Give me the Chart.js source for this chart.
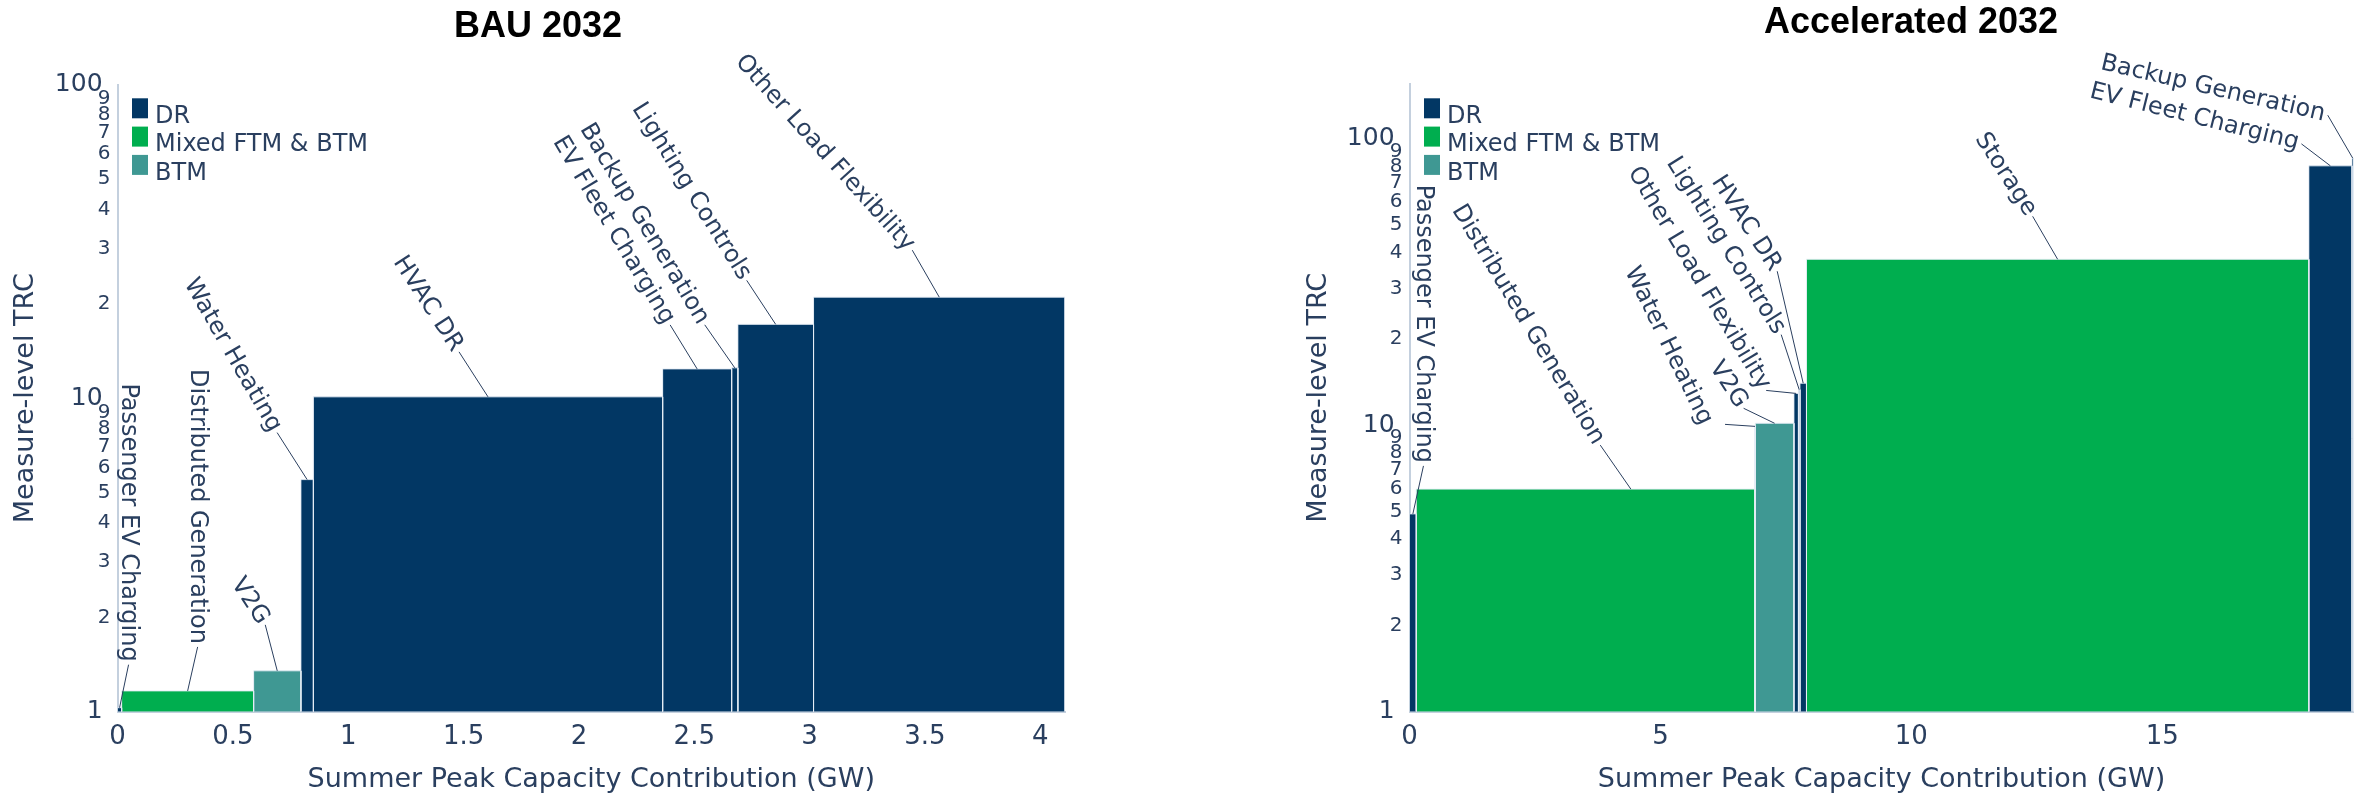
<!DOCTYPE html>
<html>
<head>
<meta charset="utf-8">
<script src="https://cdn.jsdelivr.net/npm/chart.js@4.4.1/dist/chart.umd.min.js"></script>
<style>
  html, body { margin: 0; padding: 0; background: #ffffff; }
  #wrap { position: relative; width: 2362px; height: 796px; overflow: hidden; }
  .pane { position: absolute; top: 0; height: 796px; }
</style>
</head>
<body>
<div id="wrap">
  <div class="pane" style="left:0;width:1190px"><canvas id="bau" width="1190" height="796"></canvas></div>
  <div class="pane" style="left:1190px;width:1172px"><canvas id="acc" width="1172" height="796"></canvas></div>
</div>
<script>
// ---- measure groups ----
const groupNames = ['DR', 'Mixed FTM & BTM', 'BTM'];
const groupColors = ['#023764', '#00ae4f', '#3f9893'];

// ---- BAU 2032 supply curve (ordered by TRC) ----
const bauMeasures = ['Passenger EV Charging', 'Distributed Generation', 'V2G', 'Water Heating', 'HVAC DR',
                     'EV Fleet Charging', 'Backup Generation', 'Lighting Controls', 'Other Load Flexibility'];
const bauCapacityGW = [0.018, 0.572, 0.205, 0.054, 1.514, 0.299, 0.027, 0.328, 1.090];
const bauTRC = [1.03, 1.165, 1.35, 5.5, 10.1, 12.4, 12.5, 17.2, 21.0];
const bauGroup = [0, 1, 2, 0, 0, 0, 0, 0, 0];

// ---- Accelerated 2032 supply curve ----
const accMeasures = ['Passenger EV Charging', 'Distributed Generation', 'Water Heating', 'V2G', 'Other Load Flexibility',
                     'Lighting Controls', 'HVAC DR', 'Storage', 'EV Fleet Charging', 'Backup Generation'];
const accCapacityGW = [0.134, 6.746, 0.010, 0.770, 0.090, 0.030, 0.130, 10.010, 0.860, 0.030];
const accTRC = [4.9, 5.98, 9.9, 10.15, 12.9, 13.3, 14.0, 37.9, 80.3, 85.4];
const accGroup = [0, 1, 0, 2, 0, 0, 0, 1, 0, 0];

// ---- axis ticks ----
const trcTickValues = [1, 2, 3, 4, 5, 6, 7, 8, 9, 10, 20, 30, 40, 50, 60, 70, 80, 90, 100];
const trcMajorTicks = [1, 10, 100];
const bauXTicks = [0, 0.5, 1, 1.5, 2, 2.5, 3, 3.5, 4];
const accXTicks = [0, 5, 10, 15];

// ---- styling ----
const INK = '#2a3f5f';
const AXIS = '#c4d0de';
const EDGE = 'rgba(228,236,245,0.9)';
const FONT = '"DejaVu Sans", Verdana, sans-serif';
const TITLE_FONT = 'bold 36px "Liberation Sans", Arial, sans-serif';

function edgesOf(widths) {
  const e = [0];
  widths.forEach(w => e.push(e[e.length - 1] + w));
  return e;
}

// each measure is a rectangle: width = capacity, height = TRC
function barDatasets(measures, widths, trc, groups) {
  const e = edgesOf(widths);
  return measures.map((m, i) => ({
    label: m,
    data: [{x: e[i], y: 1}, {x: e[i], y: trc[i]}, {x: e[i + 1], y: trc[i]}, {x: e[i + 1], y: 1}],
    backgroundColor: groupColors[groups[i]],
    borderColor: EDGE,
    borderWidth: 1,
    fill: 'start',
    pointRadius: 0,
    tension: 0
  }));
}

// titles, legend and leader-line labels for one panel
function makeDecor(spec) {
  return {
    id: 'decor',
    afterDraw(chart) {
      const ctx = chart.ctx;
      const xs = chart.scales.x, ys = chart.scales.y;
      ctx.save();
      ctx.fillStyle = '#000';
      ctx.font = TITLE_FONT;
      ctx.textAlign = 'center';
      ctx.textBaseline = 'middle';
      ctx.fillText(spec.title, spec.titleX, spec.titleY);

      // legend
      ctx.font = '24px ' + FONT;
      ctx.textAlign = 'left';
      groupNames.forEach((g, i) => {
        const y = 98.3 + i * 28.3;
        ctx.fillStyle = groupColors[i];
        ctx.fillRect(spec.legendX, y, 16, 20);
        ctx.fillStyle = INK;
        ctx.fillText(g, spec.legendX + 23, y + 18.5);
      });

      // callouts: leader from the bar top to the end of a rotated label
      const e = edgesOf(spec.widths);
      ctx.strokeStyle = INK;
      ctx.lineWidth = 1;
      spec.callouts.forEach((c, i) => {
        const f = c.at === undefined ? 0.5 : c.at;
        const tx = xs.getPixelForValue(e[i] + (e[i + 1] - e[i]) * f);
        const ty = ys.getPixelForValue(spec.values[i]);
        const sx = tx + c.dx, sy = ty + c.dy;
        ctx.beginPath();
        ctx.moveTo(tx, ty);
        ctx.lineTo(sx, sy);
        ctx.stroke();
        ctx.save();
        ctx.translate(sx + (c.tdx || 0), sy + (c.tdy || 0));
        ctx.rotate(c.angle * Math.PI / 180);
        ctx.fillStyle = INK;
        ctx.textAlign = 'right';
        ctx.textBaseline = 'middle';
        ctx.fillText(spec.labels[i], -(c.gap === undefined ? 3 : c.gap), 0);
        ctx.restore();
      });
      ctx.restore();
    }
  };
}

function makeChart(id, spec) {
  const total = edgesOf(spec.widths).pop();
  return new Chart(document.getElementById(id), {
    type: 'line',
    data: { datasets: barDatasets(spec.labels, spec.widths, spec.values, spec.groups) },
    options: {
      responsive: false,
      animation: false,
      events: [],
      devicePixelRatio: 1,
      layout: { padding: spec.padding },
      plugins: { legend: { display: false }, tooltip: { enabled: false } },
      scales: {
        x: {
          type: 'linear',
          min: 0,
          max: total,
          grid: { display: false, drawTicks: false },
          border: { display: true, color: AXIS, width: 2 },
          afterBuildTicks: s => { s.ticks = spec.xTicks.map(v => ({ value: v })); },
          ticks: {
            autoSkip: false, maxRotation: 0, color: INK,
            font: { family: FONT, size: 26 }, padding: 10,
            callback: v => String(v)
          },
          title: {
            display: true, text: 'Summer Peak Capacity Contribution (GW)', color: INK,
            font: { family: FONT, size: 27 }, padding: { top: 0, bottom: 0 }
          },
          afterFit: s => { s.height = spec.xHeight; }
        },
        y: {
          type: 'logarithmic',
          min: 1,
          max: spec.yMax,
          grid: { display: false, drawTicks: false },
          border: { display: true, color: AXIS, width: 2 },
          afterBuildTicks: s => {
            s.ticks = trcTickValues.filter(v => v >= s.min && v <= s.max)
              .map(v => ({ value: v, major: trcMajorTicks.includes(v) }));
          },
          ticks: {
            autoSkip: false,
            color: INK,
            padding: 7,
            font: c => ({ family: FONT, size: (c.tick && trcMajorTicks.includes(c.tick.value)) ? 25 : 20 }),
            callback: v => trcMajorTicks.includes(v) ? String(v) + ' ' : String(v).charAt(0)
          },
          title: {
            display: true, text: 'Measure-level TRC', color: INK,
            font: { family: FONT, size: 27 }, padding: { top: spec.yTitlePad, bottom: 0 }
          },
          afterFit: s => { s.width = spec.yWidth; }
        }
      }
    },
    plugins: [makeDecor(spec)]
  });
}

makeChart('bau', {
  title: 'BAU 2032', titleX: 538, titleY: 27,
  labels: bauMeasures, widths: bauCapacityGW, values: bauTRC, groups: bauGroup,
  xTicks: bauXTicks, yMax: 100,
  padding: { left: 0, right: 125, top: 84.7, bottom: 0 },
  yWidth: 117.5, xHeight: 84.3, yTitlePad: 10, legendX: 132,
  callouts: [
    { dx: 9, dy: -43, angle: 90 },
    { dx: 10, dy: -44, angle: 90 },
    { dx: -12, dy: -46, angle: 57 },
    { dx: -30, dy: -47, angle: 60 },
    { dx: -29, dy: -45, angle: 57 },
    { dx: -27, dy: -44, angle: 59 },
    { dx: -30, dy: -43, angle: 59 },
    { dx: -29, dy: -44, angle: 58 },
    { dx: -27, dy: -47, angle: 48 }
  ]
});

makeChart('acc', {
  title: 'Accelerated 2032', titleX: 721, titleY: 23,
  labels: accMeasures, widths: accCapacityGW, values: accTRC, groups: accGroup,
  xTicks: accXTicks, yMax: 155,
  padding: { left: 100, right: 8.5, top: 84, bottom: 0 },
  yWidth: 119.5, xHeight: 84.3, yTitlePad: 13, legendX: 234,
  callouts: [
    { dx: 10.6, dy: -48, angle: 90 },
    { dx: -30.6, dy: -44, angle: 59, at: 0.634 },
    { dx: -30, dy: -2, angle: 64, gap: 0, tdx: -19, tdy: -1 },
    { dx: -31, dy: -15, angle: 57 },
    { dx: -30, dy: -3, angle: 59 },
    { dx: -18, dy: -55, angle: 58 },
    { dx: -26, dy: -112, angle: 57 },
    { dx: -25, dy: -43, angle: 57 },
    { dx: -29, dy: -22, angle: 14 },
    { dx: -25, dy: -43, angle: 13 }
  ]
});
</script>
</body>
</html>
